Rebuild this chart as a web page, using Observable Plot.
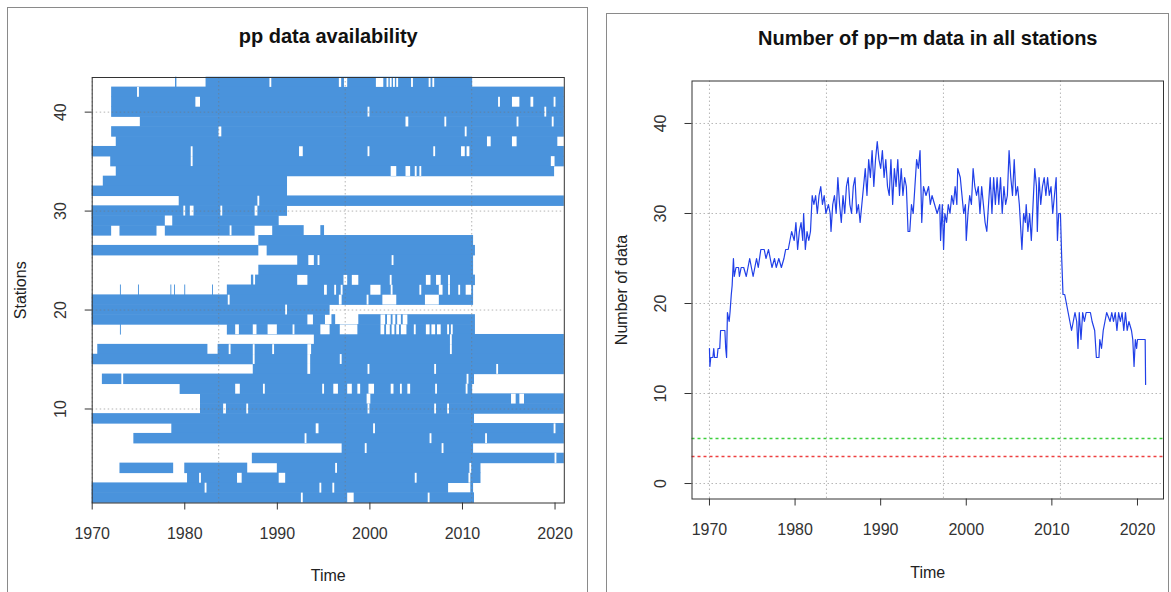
<!DOCTYPE html>
<html><head><meta charset="utf-8">
<script src="https://cdn.jsdelivr.net/npm/d3@7"></script>
<script src="https://cdn.jsdelivr.net/npm/@observablehq/plot@0.6"></script>
<style>
html,body{margin:0;padding:0;background:#fff;width:1171px;height:592px;overflow:hidden;font-family:"Liberation Sans",Arial,sans-serif;}
#left{position:absolute;left:0;top:0;width:590px;height:592px;}
#right{position:absolute;left:600px;top:0;width:571px;height:592px;}
.frame{position:absolute;border:1px solid #8a8a8a;z-index:5;pointer-events:none;}
</style></head><body>
<div id="left"></div><div id="right"></div>
<div class="frame" style="left:7px;top:7px;width:579px;height:600px"></div>
<div class="frame" style="left:606px;top:13px;width:561px;height:600px"></div>
<script>
// ---------- Left panel data: availability runs [station, start, end] ----------
const runsA = [
  [43,1979.0,1979.15],[43,1982.3,2011.1],
  [42,1972.1,2021],[41,1972.1,2021],[40,1972.1,2021],[39,1975.2,2021],
  [38,1972.1,2021],[37,1972.6,2020.3],[36,1970,2021],[35,1972.0,2021],
  [34,1972.6,2019.95],[33,1971.2,1991.1]
];
const runsB = [
  [32,1970,1991.1],[31,1979.4,2021],[30,1970,1991.1],[29,1970,1990.2],
  [28,1970,1972.1],[28,1973.0,1977.0],[28,1977.9,1987.6],[28,1989.5,1992.9],[28,1994.7,1995.1],
  [27,1988.0,2011.2],[26,1970,1988.0],[26,1988.9,2011.4],[25,1992.2,2011.2],[24,1988.0,2011.2],
  [23,1987.2,1987.45],[23,1987.65,2011.4],
  [22,1973.05,1973.15],[22,1975.0,1975.1],[22,1978.5,1978.6],[22,1978.9,1979.0],[22,1980.0,1980.1],[22,1983.0,1983.1],[22,1984.6,2011.2]
];
const runsC = [
  [21,1970,2011.2],[20,1970,1995.7],
  [19,1970,1995.2],[19,1995.9,1996.3],[19,1998.8,2011.4],
  [18,1973.05,1973.15],[18,1984.6,2011.4],
  [17,1994.0,2021],[16,1970.6,1982.5],[16,1983.6,2021],[15,1970,2021],[14,1987.4,2021],
  [13,1971.1,1973.2],[13,1973.4,2011.3],[12,1979.5,2011.1],[11,1981.7,2021]
];
const runsD = [
  [10,1981.7,2021],[9,1970,2011.3],[8,1978.6,2021],[7,1974.5,2021],[6,1997.0,2011.2],[5,1987.3,2021],
  [4,1973.0,1978.8],[4,1980.0,1986.8],[4,1990.0,2012.0],[3,1980.3,2012.0],
  [2,1970,2008.5],[2,2010.9,2011.2],[1,1970,2011.3]
];
// missing months / missing spans: [station, year] or [station, start, end]
const gapsA = [
  [43,1989.3],[43,1996.7,1996.95],[43,1997.25,1997.6],[43,2000.7,2001.5],[43,2001.95],[43,2002.3],[43,2002.65],[43,2003.0],[43,2004.6],[43,2006.4,2006.6],[43,2006.8,2007.0],
  [42,1975.0],[41,1981.2,1981.7],[41,2014.0],[41,2015.4,2016.2],[41,2017.4,2017.7],[41,2020.0],
  [40,1999.9],[40,2019.0],[39,2003.9,2004.2],[39,2008.2],[39,2016.0],[39,2019.8],
  [38,1983.7,1984.0],[38,2010.4],[37,2012.7,2013.1],[37,2015.4,2015.9],
  [36,1980.8],[36,1992.4,1992.8],[36,1999.9],[36,2007.0],[36,2009.9,2010.3],[36,2010.5,2010.8],
  [35,1980.8],[35,2019.6,2020.0],
  [34,2002.3,2002.9],[34,2003.9,2004.4],[34,2005.0],[34,2005.5]
];
const gapsB = [
  [31,1988.0],[30,1980.0],[30,1980.6,1981.0],[30,1984.0],[30,1987.6,1987.9],
  [29,1977.9,1978.7],[28,1985.0],
  [25,1993.4,1994.0],[25,1994.5],[25,2002.5],
  [23,1992.2,1993.3],[23,1997.2,1997.6],[23,1998.1,1998.8],[23,2002.3],[23,2006.1,2006.6],[23,2007.2,2007.7],[23,2008.6],
  [22,1995.1,1995.4],[22,1996.3],[22,1997.0],[22,2000.1,2001.2],[22,2002.4],[22,2005.5],[22,2007.5,2007.9],[22,2008.6],[22,2009.7],[22,2010.4,2011.0]
];
const gapsC = [
  [21,1984.8],[21,1996.7,1997.0],[21,1999.8],[21,2001.4,2002.9],[21,2006.0,2007.5],
  [20,1991.0],
  [19,1993.3,1993.9],[19,2001.2,2001.7],[19,2001.9,2002.3],[19,2002.5,2002.8],[19,2003.0,2003.4],[19,2003.6,2004.1],
  [18,1985.5,1985.9],[18,1987.4,1987.8],[18,1989.0,1990.0],[18,1991.8],[18,1994.7,1995.7],[18,1996.8,1998.7],[18,2001.2,2001.6],[18,2001.8,2002.2],[18,2002.4,2002.7],[18,2002.9,2003.2],[18,2003.4,2004.0],[18,2004.9],[18,2006.1,2006.5],[18,2006.7,2007.1],[18,2007.3,2007.7],[18,2008.5],[18,2008.9],
  [17,2008.8],
  [16,1984.9],[16,1987.4,1987.6],[16,1989.6],[16,1993.3,1993.7],[16,2008.8],
  [15,1987.4,1987.6],[15,1993.3,1993.6],[15,1996.9],
  [14,1993.3,1993.6],[14,1999.9],[14,2007.1],[14,2013.8],
  [13,2010.6],
  [12,1985.5,1986.0],[12,1988.6],[12,1995.0],[12,1996.1,1996.6],[12,1997.6,1998.1],[12,1998.7,1999.0],[12,1999.9,2000.5],[12,2002.3,2002.6],[12,2003.4],[12,2004.1,2004.4],[12,2007.2],[12,2010.5],
  [11,1999.7,2000.1],[11,2015.3,2015.8],[11,2016.2,2016.7]
];
const gapsD = [
  [10,1984.2,1984.5],[10,1986.8],[10,1999.9],[10,2007.1],[10,2008.5],
  [8,1994.2,1994.5],[8,2000.5],[8,2020.0],
  [7,1993.1],[7,2006.6],[7,2012.6],
  [6,1999.6],[6,2007.9],[5,2020.1],
  [4,1996.4],[4,2010.9],
  [3,1981.7],[3,1985.7,1986.2],[3,1990.2,1990.9],[3,2005.0],[3,2010.8],
  [2,1982.3],[2,1994.6,1994.8],[2,1996.1],
  [1,1992.7],[1,1997.6,1998.3],[1,2006.4]
];
const stationTicks = [10, 20, 30, 40];
const yearTicks = [1970, 1980, 1990, 2000, 2010, 2020];
const gridYears = [1970, 1983.667, 1997.333, 2011.0];

// ---------- Right panel data: number of stations reporting ----------
const timeR = [1970.00,1970.05,1970.15,1970.40,1970.50,1970.60,1970.90,1971.00,1971.20,1971.30,1971.80,1971.90,1972.00,1972.10,1972.30,1972.40,1972.55,1972.65,1972.80,1972.90,
1973.10,1973.40,1973.50,1973.70,1974.00,1974.30,1974.50,1974.70,1974.90,1975.10,1975.30,1975.50,1975.70,1976.00,1976.40,1976.60,1976.90,1977.10,1977.30,1977.60,1977.80,
1978.10,1978.40,1978.70,1978.90,1979.20,1979.40,1979.60,1979.90,1980.10,1980.30,1980.50,1980.70,1980.90,1981.00,1981.20,1981.40,1981.60,1981.80,1982.00,1982.20,1982.40,1982.60,1982.80,
1983.00,1983.20,1983.40,1983.60,1983.90,1984.10,1984.20,1984.40,1984.60,1984.80,1985.00,1985.20,1985.40,1985.60,1985.80,1986.00,1986.20,1986.40,1986.60,1986.80,
1987.00,1987.20,1987.40,1987.60,1987.80,1988.00,1988.20,1988.40,1988.60,1988.80,1989.00,1989.20,1989.40,1989.60,1989.80,1990.00,1990.20,1990.40,1990.60,1990.80,
1991.00,1991.20,1991.40,1991.60,1991.80,1992.00,1992.20,1992.40,1992.60,1992.80,1993.00,1993.20,1993.40,1993.60,1993.80,1994.00,1994.20,1994.40,1994.60,1994.80,
1995.00,1995.30,1995.60,1995.80,1996.00,1996.30,1996.60,1996.90,1997.00,1997.20,1997.35,1997.50,1997.70,1997.90,1998.10,1998.30,1998.50,1998.70,1998.90,
1999.00,1999.30,1999.50,1999.70,1999.90,2000.00,2000.20,2000.40,2000.60,2000.80,2001.00,2001.20,2001.40,2001.60,2001.80,2002.00,2002.20,2002.40,2002.60,2002.80,
2003.00,2003.20,2003.40,2003.60,2003.80,2004.00,2004.20,2004.40,2004.60,2004.80,2005.00,2005.20,2005.40,2005.60,2005.80,2006.00,2006.20,2006.50,2006.70,2006.90,
2007.00,2007.20,2007.40,2007.60,2007.80,2008.00,2008.20,2008.30,2008.50,2008.70,2008.90,2009.10,2009.30,2009.50,2009.70,2009.90,2010.10,2010.30,2010.50,2010.65,2010.80,
2011.00,2011.15,2011.30,2011.50,2011.70,2011.90,2012.10,2012.30,2012.50,2012.70,2012.90,2013.05,2013.20,2013.40,2013.60,2013.80,2014.00,2014.50,2014.70,
2015.00,2015.20,2015.50,2015.60,2015.80,2016.00,2016.20,2016.40,2016.80,2017.00,2017.20,2017.40,2017.60,2017.80,2018.00,2018.20,2018.40,2018.60,2018.80,
2019.00,2019.30,2019.45,2019.60,2019.75,2019.90,2020.00,2020.90,2020.95];
const countR = [15,13,14,14,15,14,14,15,15,17,17,15,14,19,18,19,21,22,25,23,
24,24,23,24,24,23,24,25,24,23,24,25,24,26,26,25,26,25,24,25,24,
25,24,25,26,26,27,28,27,29,26,28,29,27,30,26,28,27,28,32,31,32,30,32,
33,31,32,30,31,30,28,31,32,30,34,31,29,32,30,33,34,31,30,33,
34,30,31,29,31,33,35,32,36,34,37,33,36,38,36,35,37,34,36,33,
32,36,31,35,33,36,32,35,32,34,33,28,28,31,30,33,36,35,37,29,
33,32,33,31,32,31,30,31,27,31,26,30,29,31,30,32,31,33,31,
35,34,32,30,31,27,30,32,31,35,33,32,33,30,33,31,29,28,31,34,
30,34,31,34,31,34,30,33,31,32,37,34,32,36,32,33,31,26,30,29,
31,28,30,27,31,35,33,28,34,31,33,34,32,34,32,33,30,32,34,27,30,
30,25,21,21,20,19,18,17,18,19,18,15,19,16,19,18,19,19,18,
17,14,14,16,15,17,18,19,18,19,18,19,17,19,18,19,17,19,17,
18,17,16,13,16,15,16,16,11];
const countTicks = [0, 10, 20, 30, 40];
const thresholdGood = [5];
const thresholdMin = [3];

// ---------- build ----------
const FONT = '"Liberation Sans", Arial, Helvetica, sans-serif';
const toSeg = r => ({s: r[0], a: r[1], b: r[2]});
const toGap = g => g.length === 2 ? {s: g[0], a: g[1] - 0.1, b: g[1] + 0.1} : {s: g[0], a: g[1], b: g[2]};
const blueRuns = [...runsA, ...runsB, ...runsC, ...runsD].map(toSeg);
const whiteGaps = [...gapsA, ...gapsB, ...gapsC, ...gapsD].map(toGap);
const yearFmt = d => String(d);

const left = Plot.plot({
  width: 590, height: 592,
  marginLeft: 91.7, marginRight: 26.2, marginTop: 77, marginBottom: 89.5,
  x: {domain: [1970, 2021]},
  y: {domain: [0.5, 43.5]},
  style: {background: "transparent", fontFamily: FONT, fontSize: "16px", color: "#333"},
  marks: [
    Plot.rect(blueRuns, {x1: "a", x2: "b", y1: d => d.s - 0.53, y2: d => d.s + 0.53, fill: "#4A93DC"}),
    Plot.rect(whiteGaps, {x1: "a", x2: "b", y1: d => d.s - 0.5, y2: d => d.s + 0.5, fill: "white"}),
    Plot.gridX(gridYears, {stroke: "#777", strokeOpacity: 0.55, strokeDasharray: "1.5,2.5"}),
    Plot.gridY(stationTicks, {stroke: "#777", strokeOpacity: 0.55, strokeDasharray: "1.5,2.5"}),
    Plot.frame({stroke: "#333"}),
    Plot.axisX(yearTicks, {tickSize: 7, tickPadding: 18, tickFormat: yearFmt, label: null, stroke: "#333", fill: "#333"}),
    Plot.axisY(stationTicks, {tickSize: 7, tickFormat: () => "", label: null, stroke: "#333"}),
    Plot.text(stationTicks, {y: d => d, text: d => String(d), frameAnchor: "left", dx: -31.3, rotate: -90, textAnchor: "middle", lineAnchor: "middle", fill: "#333"}),
    Plot.text(["Stations"], {text: d => d, frameAnchor: "left", dx: -71, rotate: -90, textAnchor: "middle", lineAnchor: "middle", fill: "#222"}),
    Plot.text(["Time"], {text: d => d, frameAnchor: "bottom", dy: 73, textAnchor: "middle", lineAnchor: "middle", fill: "#222"}),
    Plot.text(["pp data availability"], {text: d => d, frameAnchor: "top", dy: -41, textAnchor: "middle", lineAnchor: "middle", fontWeight: "bold", fontSize: 20, fill: "#111"})
  ]
});
document.getElementById("left").append(left);

const series = timeR.map((t, i) => ({t, v: countR[i]}));
const right = Plot.plot({
  width: 571, height: 592,
  marginLeft: 91.5, marginRight: 8, marginTop: 80.5, marginBottom: 93.5,
  x: {domain: [1967.96, 2023.04]},
  y: {domain: [-1.72, 44.72]},
  style: {background: "transparent", fontFamily: FONT, fontSize: "16px", color: "#333"},
  marks: [
    Plot.gridX(gridYears, {stroke: "#999", strokeOpacity: 0.7, strokeDasharray: "1.5,2.5"}),
    Plot.gridY(countTicks, {stroke: "#999", strokeOpacity: 0.7, strokeDasharray: "1.5,2.5"}),
    Plot.ruleY(thresholdGood, {stroke: "#3ecf3e", strokeWidth: 1.3, strokeDasharray: "3,3"}),
    Plot.ruleY(thresholdMin, {stroke: "#ee4040", strokeWidth: 1.3, strokeDasharray: "3,3"}),
    Plot.line(series, {x: "t", y: "v", stroke: "#2140e8", strokeWidth: 1.2}),
    Plot.frame({stroke: "#333"}),
    Plot.axisX(yearTicks, {tickSize: 7, tickPadding: 18, tickFormat: yearFmt, label: null, stroke: "#333", fill: "#333"}),
    Plot.axisY(countTicks, {tickSize: 7, tickFormat: () => "", label: null, stroke: "#333"}),
    Plot.text(countTicks, {y: d => d, text: d => String(d), frameAnchor: "left", dx: -31.5, rotate: -90, textAnchor: "middle", lineAnchor: "middle", fill: "#333"}),
    Plot.text(["Number of data"], {text: d => d, frameAnchor: "left", dx: -70.5, rotate: -90, textAnchor: "middle", lineAnchor: "middle", fill: "#222"}),
    Plot.text(["Time"], {text: d => d, frameAnchor: "bottom", dy: 74, textAnchor: "middle", lineAnchor: "middle", fill: "#222"}),
    Plot.text(["Number of pp\u2212m data in all stations"], {text: d => d, frameAnchor: "top", dy: -42.7, textAnchor: "middle", lineAnchor: "middle", fontWeight: "bold", fontSize: 20, fill: "#111"})
  ]
});
document.getElementById("right").append(right);
</script></body></html>
